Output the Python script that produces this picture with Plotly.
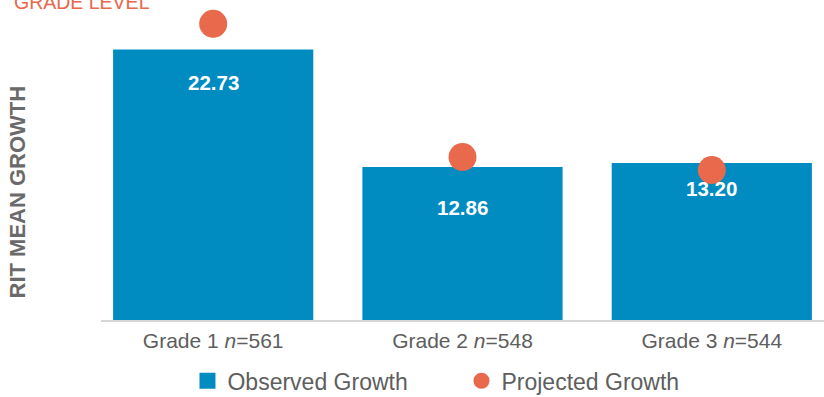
import plotly.graph_objects as go

# Grade groups and sample sizes
grades = ["Grade 1", "Grade 2", "Grade 3"]
sample_sizes = [561, 548, 544]

# RIT mean growth: observed vs projected
observed_growth = [22.73, 12.86, 13.20]
projected_growth = [24.9, 13.7, 12.6]

BLUE = "#008CC1"
ORANGE = "#E8694B"
GRAY = "#5E5E5E"
FONT = "Liberation Sans, Arial, Helvetica, sans-serif"

x_idx = list(range(len(grades)))
tick_text = [f"{g} <i>n</i>={n}" for g, n in zip(grades, sample_sizes)]

fig = go.Figure()

fig.add_trace(go.Bar(
    x=x_idx, y=observed_growth,
    marker=dict(color=BLUE, line=dict(width=0)),
    showlegend=False, hoverinfo="skip",
))

fig.add_trace(go.Scatter(
    x=x_idx, y=projected_growth, mode="markers",
    marker=dict(color=ORANGE, size=28, line=dict(width=0)),
    showlegend=False, cliponaxis=False, hoverinfo="skip",
))

# legend entries
fig.add_trace(go.Scatter(
    x=[None], y=[None], mode="markers", name="Observed Growth",
    marker=dict(color=BLUE, symbol="square", size=16),
))
fig.add_trace(go.Scatter(
    x=[None], y=[None], mode="markers", name="Projected Growth",
    marker=dict(color=ORANGE, symbol="circle", size=16),
))

# value labels inside the bars (vertical offset from bar top, px)
label_drop = [33, 40, 26]
for i, v in enumerate(observed_growth):
    fig.add_annotation(
        x=i, y=v, text=f"{v:.2f}", showarrow=False,
        yanchor="middle", yshift=-label_drop[i],
        font=dict(family=FONT, size=20.5, color="white", weight="bold"),
    )

# y-axis title
fig.add_annotation(
    xref="paper", yref="paper", x=-0.1155, y=0.40,
    text="RIT MEAN GROWTH", textangle=-90, showarrow=False,
    xanchor="center", yanchor="middle",
    font=dict(family=FONT, size=22, color="#6A6A6A", weight="bold"),
)

# heading (runs past the top edge)
fig.add_annotation(
    xref="paper", yref="paper", x=-0.123, y=0.953,
    text="GRADE LEVEL", showarrow=False,
    xanchor="left", yanchor="bottom",
    font=dict(family=FONT, size=19.5, color=ORANGE),
)

fig.update_layout(
    width=824, height=397,
    margin=dict(l=101, r=0, t=0, b=77, autoexpand=False),
    paper_bgcolor="white", plot_bgcolor="white",
    bargap=0.197,
    font=dict(family=FONT, color=GRAY),
    xaxis=dict(
        range=[-0.45, 2.45], tickmode="array", tickvals=x_idx, ticktext=tick_text,
        showline=True, linecolor="#D6D6D6", linewidth=1.5,
        showgrid=False, zeroline=False, ticks="",
        tickfont=dict(family=FONT, size=21, color=GRAY),
        ticklabelstandoff=1, automargin=False,
    ),
    yaxis=dict(range=[0, 26.9], visible=False),
    legend=dict(
        orientation="h", x=0.1196, xanchor="left", y=-0.19, yanchor="middle",
        font=dict(family=FONT, size=23, color=GRAY),
        entrywidth=229, entrywidthmode="pixels",
        bgcolor="rgba(0,0,0,0)", itemclick=False, itemdoubleclick=False,
    ),
    showlegend=True,
)

fig.write_html("out.html")
